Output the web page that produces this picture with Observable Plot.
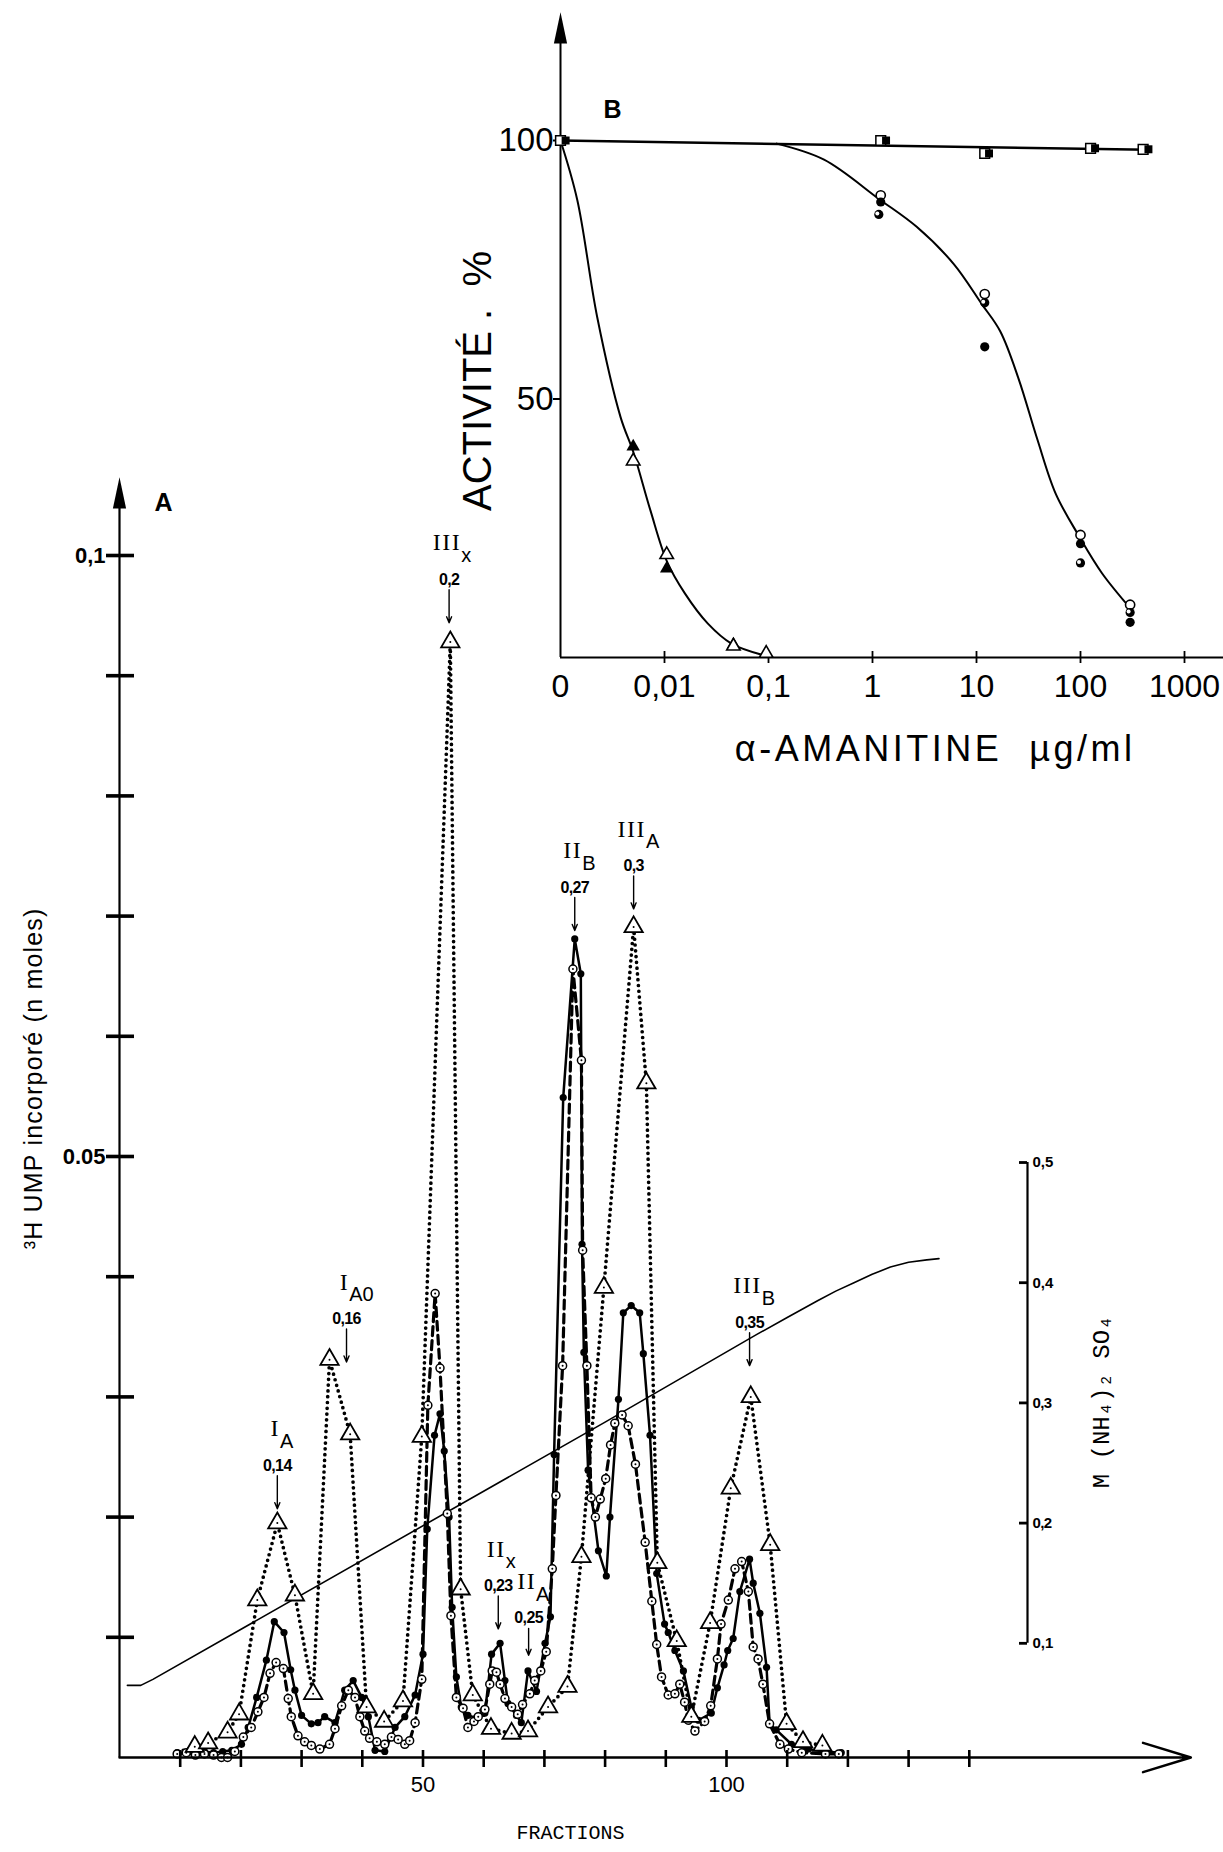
<!DOCTYPE html>
<html><head><meta charset="utf-8">
<script src="https://cdn.jsdelivr.net/npm/d3@7"></script>
<script src="https://cdn.jsdelivr.net/npm/@observablehq/plot@0.6"></script>
<style>
html,body{margin:0;padding:0;background:#fff;overflow:hidden;}
#wrap{position:relative;width:1223px;height:1852px;background:#fff;}
#wrap svg{position:absolute;left:0;top:0;}
</style></head><body><div id="wrap"></div>
<script>
// ================= PANEL A : chromatography profile =================
// dotted line, open triangles
const triFraction = [10.5,12.4,14.6,17.8,19.7,22.7,26.0,28.9,31.9,34.6,38.0,40.7,43.6,46.7,49.8,54.5,56.2,58.2,61.2,64.6,67.3,70.6,73.8,76.1,79.8,84.7,86.8,88.6,91.8,94.2,97.3,100.7,104.0,107.2,109.9,112.6,115.8];
const triUMP = [0.0006,0.0009,0.0012,0.0021,0.0036,0.0131,0.0195,0.0135,0.0053,0.0331,0.0269,0.0042,0.0030,0.0047,0.0267,0.0928,0.0140,0.0052,0.0024,0.0020,0.0022,0.0042,0.0059,0.0167,0.0391,0.0691,0.0561,0.0162,0.0097,0.0034,0.0112,0.0224,0.0300,0.0177,0.0028,0.0013,0.0010];
// solid line, filled circles
const filledFraction = [9.5,11,12.5,14,15.5,17,18.5,20.1,21.2,22.6,24.2,25.5,27.1,28.2,28.9,30.0,31.6,32.7,33.8,35.5,37.1,38.5,39.9,41.0,42.1,43.7,45.4,47.0,48.7,50.0,50.7,51.9,52.8,53.5,54.3,54.8,55.5,56.3,57.4,58.8,60.2,61.3,62.7,63.5,64.0,65.4,66.2,67.3,68.7,70.1,71.0,71.6,73.1,75.0,76.0,76.2,76.5,77.2,78.9,80.2,80.8,82.2,83.0,84.3,85.7,86.3,87.4,88.5,89.8,90.4,91.5,92.9,94.2,95.4,97.5,98.5,99.6,100.2,101.1,102.2,103.8,104.4,105.5,106.6,107.1,108.2,110.7,113.5,116.0,118.9];
const filledUMP = [0.0004,0.0004,0.0004,0.0005,0.0004,0.0005,0.0006,0.0011,0.0025,0.0050,0.0081,0.0113,0.0104,0.0073,0.0056,0.0035,0.0028,0.0029,0.0034,0.0029,0.0056,0.0064,0.0050,0.0034,0.0006,0.0005,0.0025,0.0034,0.0052,0.0086,0.0190,0.0268,0.0286,0.0255,0.0200,0.0125,0.0067,0.0042,0.0035,0.0033,0.0037,0.0086,0.0095,0.0064,0.0045,0.0035,0.0029,0.0072,0.0055,0.0095,0.0117,0.0252,0.0549,0.0681,0.0652,0.0427,0.0337,0.0239,0.0172,0.0151,0.0200,0.0298,0.0370,0.0376,0.0370,0.0336,0.0268,0.0153,0.0111,0.0104,0.0089,0.0072,0.0042,0.0031,0.0037,0.0058,0.0077,0.0089,0.0099,0.0138,0.0165,0.0145,0.0120,0.0075,0.0028,0.0023,0.0011,0.0007,0.0005,0.0004];
// dashed line, open circles
const openFraction = [9.5,11,12.5,14,15.5,16.8,17.8,19.0,20.4,21.7,22.8,23.8,24.8,25.8,27.0,27.8,28.3,29.4,30.5,31.6,33.0,34.6,35.5,36.6,37.7,38.8,39.6,40.4,41.2,42.4,43.7,44.8,45.9,47.0,47.8,48.7,49.8,50.8,52.0,52.8,54.0,54.6,55.5,56.6,57.4,58.4,59.1,60.2,61.0,61.4,62.1,62.7,63.5,64.6,65.6,66.4,67.6,68.4,69.4,70.3,71.3,71.9,73.0,74.7,76.1,76.3,77.0,77.7,78.4,79.2,80.1,80.9,81.6,82.8,83.8,85.0,86.6,87.7,88.5,89.3,90.4,91.5,92.3,93.1,93.7,94.8,96.4,97.4,98.5,99.1,100.3,101.4,102.5,103.6,104.4,105.2,106.0,107.1,108.8,110.2,112.4,116.3,118.5];
const openUMP = [0.0003,0.0004,0.0002,0.0003,0.0002,0.0000,0.0000,0.0005,0.0017,0.0025,0.0038,0.0050,0.0070,0.0079,0.0074,0.0049,0.0034,0.0018,0.0013,0.0010,0.0007,0.0011,0.0024,0.0043,0.0056,0.0050,0.0034,0.0022,0.0016,0.0013,0.0011,0.0017,0.0015,0.0011,0.0014,0.0029,0.0065,0.0293,0.0386,0.0324,0.0203,0.0118,0.0050,0.0041,0.0025,0.0030,0.0034,0.0040,0.0061,0.0072,0.0071,0.0061,0.0049,0.0042,0.0036,0.0044,0.0053,0.0064,0.0072,0.0088,0.0157,0.0218,0.0326,0.0656,0.0580,0.0422,0.0326,0.0216,0.0200,0.0215,0.0232,0.0260,0.0278,0.0285,0.0276,0.0244,0.0179,0.0130,0.0094,0.0067,0.0052,0.0053,0.0061,0.0046,0.0031,0.0022,0.0030,0.0043,0.0082,0.0111,0.0131,0.0157,0.0163,0.0138,0.0092,0.0082,0.0061,0.0028,0.0011,0.0007,0.0004,0.0003,0.0003];
// (NH4)2SO4 gradient
const gradFraction = [1.3,3.5,5.5,80,105,110,115,118,121,124,127,130,133,135];
const gradMolar = [0.065,0.065,0.070,0.284,0.357,0.371,0.385,0.393,0.400,0.407,0.413,0.417,0.419,0.420];

// axes
const fractionTicks = [10,20,30,40,50,60,70,80,90,100,110,120,130,140];
const fractionLabelVals = [50,100];
const fractionLabels = ["50","100"];
const umpTicks = [0.01,0.02,0.03,0.04,0.05,0.06,0.07,0.08,0.09,0.1];
const umpLabelVals = [0.1,0.05];
const umpLabels = ["0,1","0.05"];
const saltTicks = [0.1,0.2,0.3,0.4,0.5];
const saltLabels = ["0,1","0,2","0,3","0,4","0,5"];

// peak annotations
const peakName = ["I","I","III","II","III","II","II","III"];
const peakSub = ["A","A0","x","B","A","x","A","B"];
const peakMolar = ["0,14","0,16","0,2","0,27","0,3","0,23","0,25","0,35"];
const peakFraction = [26.0,37.4,54.3,75.0,84.7,62.4,67.4,103.8];
const peakTipUMP = [0.0207,0.0329,0.0944,0.0688,0.0706,0.0107,0.0085,0.0326];

// ================= PANEL B : α-amanitin inhibition =================
const bXTicks = [0.001,0.01,0.1,1,10,100,1000];
const bXLabels = ["0","0,01","0,1","1","10","100","1000"];
const bYTicks = [50,100];
const bYLabels = ["50","100"];
const sqOpenDose = [0.001,1.2,12,125,400];
const sqOpenAct = [100,100,97.5,98.5,98.3];
const sqFilledDose = [0.00112,1.35,13.2,138,450];
const sqFilledAct = [100,100,97.5,98.5,98.3];
const sqFitDose = [0.001,450];
const sqFitAct = [100,98.2];
const circOpenDose = [1.2,12,100,300];
const circOpenAct = [89.4,70.3,23.7,10.2];
const circFilledDose = [1.2,12,100,300];
const circFilledAct = [88.1,60.1,22.0,6.8];
const circHalfDose = [1.15,12,100,300];
const circHalfAct = [85.7,68.6,18.3,8.7];
const circFitDose = [0.12,0.342,1.17,2.66,6.05,11.2,16.9,25.4,38.3,57.7,96.6,161,314];
const circFitAct = [99.4,96.3,88.6,83.3,76.1,68.4,63.1,53.9,42.3,31.7,23.5,16.3,9.1];
const triOpenDose = [0.005,0.0105,0.046,0.095];
const triOpenAct = [38.0,19.9,2.2,0.8];
const triFilledDose = [0.005,0.0105,0.046];
const triFilledAct = [40.8,17.2,2.5];
const triFitDose = [0.001,0.00145,0.00225,0.00378,0.00506,0.00731,0.0106,0.0157,0.026,0.044,0.095];
const triFitAct = [100,88.5,65.9,46.5,39.5,28.5,18.5,12.4,6.6,2.7,0.3];

// ---------------- helpers ----------------
const zip = (xs, ys) => xs.map((x, i) => ({x, y: ys[i]}));
const W = 1223, H = 1852;
const SANS = "Liberation Sans, Arial, sans-serif";
const SERIF = "Liberation Serif, DejaVu Serif, serif";
const MONO = "Liberation Mono, DejaVu Sans Mono, monospace";
const arrowUp = {draw(ctx, size) {const r = Math.sqrt(size / Math.PI); ctx.moveTo(0, 0); ctx.lineTo(-r * 0.55, r * 2.6); ctx.lineTo(r * 0.55, r * 2.6); ctx.closePath();}};

// Panel A geometry (px per unit)
const A_LEFT = 119, A_PXF = 6.07, A_BASE = 1757, A_TOP = 555;
const A_PXV = (A_BASE - A_TOP) / 0.1;
const fpx = px => px / A_PXF;       // px -> fraction units
const vpx = px => px / A_PXV;       // px -> nmol units
const saltToUMP = s => s / 10 - 0.0005;   // right-hand molarity axis
const SALT_AXIS = (1027 - A_LEFT) / A_PXF;
const NAME_CHAR = 9.5;              // advance of one peak-name character
const ARROW_LEN = {"IIA": 27};      // shorter annotation arrows (px)
const arrowLen = d => ARROW_LEN[d.name + d.sub] ?? 33;

const tri = zip(triFraction, triUMP);
const filled = zip(filledFraction, filledUMP);
const open = zip(openFraction, openUMP);
const grad = zip(gradFraction, gradMolar);
const peaks = peakName.map((n, i) => ({name: n, sub: peakSub[i], m: peakMolar[i], f: peakFraction[i], tip: peakTipUMP[i]}));

const plotA = Plot.plot({
  width: W, height: H,
  marginLeft: A_LEFT, marginRight: W - A_LEFT - 180 * A_PXF,
  marginTop: A_TOP, marginBottom: H - A_BASE,
  x: {domain: [0, 180], axis: null},
  y: {domain: [0, 0.1], axis: null},
  style: {background: "transparent", overflow: "visible"},
  marks: [
    // gradient
    Plot.line(grad, {x: "x", y: d => saltToUMP(d.y), curve: "linear", stroke: "black", strokeWidth: 1.6, strokeLinejoin: "round"}),
    // profiles
    Plot.line(tri, {x: "x", y: "y", stroke: "black", strokeWidth: 3.7, strokeDasharray: "0,5.8", strokeLinecap: "round"}),
    Plot.line(open, {x: "x", y: "y", stroke: "black", strokeWidth: 3.2, strokeDasharray: "9,5"}),
    Plot.line(filled, {x: "x", y: "y", stroke: "black", strokeWidth: 2.5}),
    Plot.dot(filled, {x: "x", y: "y", r: 3.6, fill: "black"}),
    Plot.dot(open, {x: "x", y: "y", r: 4, fill: "white", stroke: "black", strokeWidth: 1.5}),
    Plot.dot(open, {x: "x", y: "y", r: 1, fill: "black"}),
    Plot.dot(tri.filter(d => d.x > 12), {x: "x", y: "y", r: 6.8, symbol: "triangle", fill: "white", stroke: "black", strokeWidth: 1.8}),
    Plot.dot(tri.filter(d => d.x > 12), {x: "x", y: "y", r: 1, fill: "black"}),
    // left axis
    Plot.ruleX([0], {x: d => d, y1: 0, y2: 0.104, strokeWidth: 2.2}),
    Plot.dot([0], {x: d => d, y: 0.1065, symbol: arrowUp, r: 12, fill: "black"}),
    Plot.ruleY(umpTicks, {y: d => d, x1: -fpx(13), x2: fpx(15), strokeWidth: 3.6}),
    Plot.text(umpLabelVals, {x: 0, y: d => d, text: (d, i) => umpLabels[i], dx: -14, textAnchor: "end", fontSize: 22, fontWeight: "bold", fontFamily: SANS}),
    Plot.text(["³H UMP incorporé (n moles)"], {x: 0, y: 0.0565, text: d => d, dx: -86, rotate: -90, fontSize: 25, fontFamily: SANS}),
    Plot.text(["A"], {x: 0, y: 0.1, text: d => d, dx: 44, dy: -53, fontSize: 25, fontWeight: "bold", fontFamily: SANS}),
    // bottom axis
    Plot.arrow([0], {x1: 0, y1: 0, x2: 176.5, y2: 0, headLength: 30, headAngle: 34, strokeWidth: 2.5, stroke: "black"}),
    Plot.ruleX(fractionTicks, {x: d => d, y1: -vpx(10), y2: vpx(7), strokeWidth: 2.6}),
    Plot.text(fractionLabelVals, {x: d => d, y: 0, text: (d, i) => fractionLabels[i], dy: 27, fontSize: 22, fontFamily: SANS}),
    Plot.text(["FRACTIONS"], {x: 74.3, y: 0, text: d => d, dy: 75, fontSize: 20, fontFamily: MONO}),
    // right (NH4)2SO4 axis
    Plot.ruleX([SALT_AXIS], {x: d => d, y1: saltToUMP(0.1), y2: saltToUMP(0.5), strokeWidth: 2.2}),
    Plot.ruleY(saltTicks, {y: d => saltToUMP(d), x1: SALT_AXIS - fpx(8), x2: SALT_AXIS, strokeWidth: 2.8}),
    Plot.text(saltTicks, {x: SALT_AXIS, y: d => saltToUMP(d), text: (d, i) => saltLabels[i], dx: 5, textAnchor: "start", fontSize: 15, fontWeight: "bold", fontFamily: SANS}),
    Plot.text(["M (NH₄)₂ SO₄"], {x: SALT_AXIS, y: saltToUMP(0.3), text: d => d, dx: 74, dy: -1, rotate: -90, fontSize: 24, fontFamily: MONO}),
    // peak labels
    Plot.arrow(peaks, {x1: "f", x2: "f", y1: d => d.tip + vpx(arrowLen(d)), y2: "tip", headLength: 7, headAngle: 45, strokeWidth: 1.4, stroke: "black"}),
    Plot.text(peaks, {x: "f", y: d => d.tip + vpx(arrowLen(d) - 33), text: "m", dy: -43, fontSize: 16, fontWeight: "bold", fontFamily: SANS}),
    Plot.text(peaks, {x: d => d.f - fpx(2), y: d => d.tip + vpx(arrowLen(d) - 33), text: "name", dy: -80, fontSize: 24, fontFamily: SERIF}),
    Plot.text(peaks, {x: d => d.f + fpx(d.name.length * NAME_CHAR / 2 - 2), y: d => d.tip + vpx(arrowLen(d) - 33), text: "sub", dy: -67, textAnchor: "start", fontSize: 20, fontFamily: SANS})
  ]
});

// ---------------- Panel B ----------------
const B_LEFT = 560, B_DEC = 104, B_BASE = 657, B_TOP = 140;
const B_PXA = (B_BASE - B_TOP) / 100;
const dpx = px => Math.pow(10, px / B_DEC);   // px -> multiplicative dose factor
const apx = px => px / B_PXA;

const plotB = Plot.plot({
  width: W, height: 800,
  marginLeft: B_LEFT, marginRight: W - (B_LEFT + 6 * B_DEC),
  marginTop: B_TOP, marginBottom: 800 - B_BASE,
  x: {type: "log", domain: [0.001, 1000], axis: null},
  y: {domain: [0, 100], axis: null},
  style: {background: "transparent", overflow: "visible"},
  marks: [
    Plot.ruleX([0.001], {x: d => d, y1: 0, y2: 120, strokeWidth: 2}),
    Plot.dot([0.001], {x: d => d, y: 124.8, symbol: arrowUp, r: 12, fill: "black"}),
    Plot.ruleY([0], {y: d => d, x1: 0.001, x2: 3000, strokeWidth: 2.2}),
    Plot.ruleY(bYTicks, {y: d => d, x1: 0.001 / dpx(7), x2: 0.001, strokeWidth: 2}),
    Plot.text(bYTicks, {x: 0.001, y: d => d, text: (d, i) => bYLabels[i], dx: -7, textAnchor: "end", fontSize: 33, fontFamily: SANS}),
    Plot.ruleX(bXTicks.slice(1), {x: d => d, y1: -apx(6), y2: apx(6), strokeWidth: 1.8}),
    Plot.text(bXTicks, {x: d => d, y: 0, text: (d, i) => bXLabels[i], dy: 29, fontSize: 32, fontFamily: SANS}),
    Plot.text(["α-AMANITINE  µg/ml"], {x: 4.0, y: 0, text: d => d, dy: 92, fontSize: 36, fontFamily: SANS}),
    Plot.text(["ACTIVITÉ .  %"], {x: 0.001, y: 50, text: d => d, dx: -82, dy: -18, rotate: -90, fontSize: 40, fontFamily: SANS}),
    Plot.text(["B"], {x: 0.001, y: 100, text: d => d, dx: 52, dy: -31, fontSize: 25, fontWeight: "bold", fontFamily: SANS}),
    // fitted curves
    Plot.line(zip(sqFitDose, sqFitAct), {x: "x", y: "y", strokeWidth: 2.4}),
    Plot.line(zip(circFitDose, circFitAct), {x: "x", y: "y", strokeWidth: 2, curve: "catmull-rom"}),
    Plot.line(zip(triFitDose, triFitAct), {x: "x", y: "y", strokeWidth: 2, curve: "catmull-rom"}),
    // markers
    Plot.dot(zip(sqOpenDose, sqOpenAct), {x: "x", y: "y", symbol: "square", r: 5.5, fill: "white", stroke: "black", strokeWidth: 1.5}),
    Plot.dot(zip(sqFilledDose, sqFilledAct), {x: "x", y: "y", symbol: "square", r: 4.5, fill: "black"}),
    Plot.dot(zip(circOpenDose, circOpenAct), {x: "x", y: "y", r: 4.6, fill: "white", stroke: "black", strokeWidth: 1.6}),
    Plot.dot(zip(circFilledDose, circFilledAct), {x: "x", y: "y", r: 4.6, fill: "black"}),
    Plot.dot(zip(circHalfDose, circHalfAct), {x: "x", y: "y", r: 4.6, fill: "black"}),
    Plot.dot(zip(circHalfDose, circHalfAct), {x: "x", y: "y", r: 2, fill: "white", dx: -1.5, dy: -1}),
    Plot.dot(zip(triFilledDose, triFilledAct), {x: "x", y: "y", symbol: "triangle", r: 5, fill: "black"}),
    Plot.dot(zip(triOpenDose, triOpenAct), {x: "x", y: "y", symbol: "triangle", r: 5, fill: "white", stroke: "black", strokeWidth: 1.6})
  ]
});

// letter spacing (not a Plot text option): applied to the rendered text elements
const SPACING = [
  [t => /^I+$/.test(t), 1.5],
  [t => t.startsWith("³H"), 1.2],
  [t => t.startsWith("α-"), 3.5],
  [t => peakMolar.includes(t), -0.6]
];
for (const svg of [plotA, plotB]) {
  d3.select(svg).selectAll("text").each(function () {
    const t = this.textContent;
    for (const [test, ls] of SPACING) if (test(t)) { this.setAttribute("letter-spacing", ls); break; }
  });
}

const wrap = document.getElementById("wrap");
wrap.appendChild(plotA);
wrap.appendChild(plotB);
</script>
</body></html>
